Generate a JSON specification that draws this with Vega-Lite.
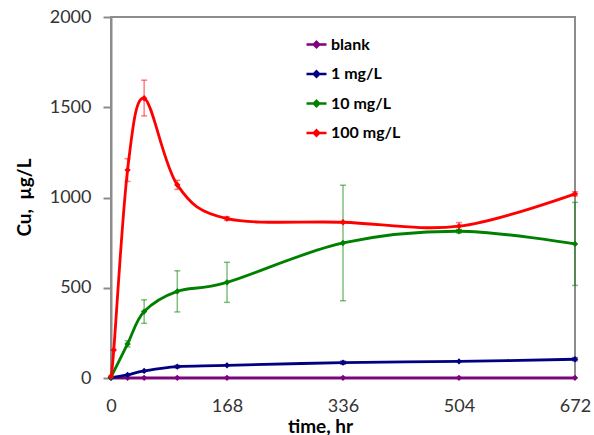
{
  "$schema": "https://vega.github.io/schema/vega-lite/v6.json",
  "width": 464,
  "height": 361,
  "autosize": {"type": "none"},
  "padding": {"left": 111, "top": 17, "right": 19, "bottom": 57},
  "background": "white",
  "config": {
    "font": "Lato",
    "view": {"stroke": "#8c8c8c", "strokeWidth": 2},
    "axis": {
      "grid": false,
      "domainColor": "#8c8c8c",
      "domainWidth": 2,
      "tickColor": "#8c8c8c",
      "tickWidth": 2,
      "labelFont": "Lato",
      "labelFontSize": 18,
      "labelColor": "#333333",
      "labelFlush": false,
      "format": "d",
      "titleFont": "Lato",
      "titleFontSize": 19,
      "titleFontWeight": "bold",
      "titleColor": "#000000"
    }
  },
  "datasets": {
    "main": [
      {"series": "blank", "t": 0, "cu": 1},
      {"series": "blank", "t": 24, "cu": 1},
      {"series": "blank", "t": 48, "cu": 1},
      {"series": "blank", "t": 96, "cu": 1},
      {"series": "blank", "t": 168, "cu": 1},
      {"series": "blank", "t": 336, "cu": 1},
      {"series": "blank", "t": 504, "cu": 1},
      {"series": "blank", "t": 672, "cu": 1},
      {"series": "1 mg/L", "t": 0, "cu": 2},
      {"series": "1 mg/L", "t": 24, "cu": 17},
      {"series": "1 mg/L", "t": 48, "cu": 39},
      {"series": "1 mg/L", "t": 96, "cu": 63},
      {"series": "1 mg/L", "t": 168, "cu": 70},
      {"series": "1 mg/L", "t": 336, "cu": 85},
      {"series": "1 mg/L", "t": 504, "cu": 92},
      {"series": "1 mg/L", "t": 672, "cu": 104},
      {"series": "10 mg/L", "t": 0, "cu": 5},
      {"series": "10 mg/L", "t": 24, "cu": 189},
      {"series": "10 mg/L", "t": 48, "cu": 368},
      {"series": "10 mg/L", "t": 96, "cu": 480},
      {"series": "10 mg/L", "t": 168, "cu": 530},
      {"series": "10 mg/L", "t": 336, "cu": 748},
      {"series": "10 mg/L", "t": 504, "cu": 813},
      {"series": "10 mg/L", "t": 672, "cu": 743},
      {"series": "100 mg/L", "t": 0, "cu": 10},
      {"series": "100 mg/L", "t": 4, "cu": 155},
      {"series": "100 mg/L", "t": 24, "cu": 1152},
      {"series": "100 mg/L", "t": 48, "cu": 1550},
      {"series": "100 mg/L", "t": 96, "cu": 1070},
      {"series": "100 mg/L", "t": 168, "cu": 883},
      {"series": "100 mg/L", "t": 336, "cu": 863},
      {"series": "100 mg/L", "t": 504, "cu": 841},
      {"series": "100 mg/L", "t": 672, "cu": 1020}
    ],
    "err": [
      {"series": "1 mg/L", "t": 96, "lo": 56, "hi": 70},
      {"series": "1 mg/L", "t": 336, "lo": 76, "hi": 94},
      {"series": "1 mg/L", "t": 672, "lo": 95, "hi": 113},
      {"series": "10 mg/L", "t": 24, "lo": 172, "hi": 206},
      {"series": "10 mg/L", "t": 48, "lo": 303, "hi": 433},
      {"series": "10 mg/L", "t": 96, "lo": 366, "hi": 594},
      {"series": "10 mg/L", "t": 168, "lo": 419, "hi": 641},
      {"series": "10 mg/L", "t": 336, "lo": 428, "hi": 1068},
      {"series": "10 mg/L", "t": 504, "lo": 803, "hi": 823},
      {"series": "10 mg/L", "t": 672, "lo": 513, "hi": 973},
      {"series": "100 mg/L", "t": 24, "lo": 1089, "hi": 1215},
      {"series": "100 mg/L", "t": 48, "lo": 1452, "hi": 1650},
      {"series": "100 mg/L", "t": 96, "lo": 1045, "hi": 1095},
      {"series": "100 mg/L", "t": 168, "lo": 873, "hi": 893},
      {"series": "100 mg/L", "t": 504, "lo": 821, "hi": 861},
      {"series": "100 mg/L", "t": 672, "lo": 1008, "hi": 1032}
    ]
  },
  "encoding": {
    "x": {
      "field": "t",
      "type": "quantitative",
      "scale": {"domain": [0, 672], "nice": false},
      "axis": {
        "values": [0, 168, 336, 504, 672],
        "ticks": false,
        "labelPadding": 19,
        "title": "time, hr",
        "titleX": 209,
        "titleY": 54,
        "titleBaseline": "alphabetic",
        "titleAnchor": "start",
        "titleAlign": "center"
      }
    },
    "color": {
      "field": "series",
      "type": "nominal",
      "scale": {
        "domain": ["blank", "1 mg/L", "10 mg/L", "100 mg/L"],
        "range": ["#800080", "#000080", "#008000", "#ff0000"]
      },
      "legend": {
        "orient": "none",
        "legendX": 194,
        "legendY": 16,
        "title": null,
        "symbolType": "M-1,0H1M0,-0.27L0.27,0L0,0.27L-0.27,0Z",
        "symbolSize": 400,
        "symbolStrokeWidth": 2.5,
        "labelFont": "Lato",
        "labelFontSize": 16,
        "labelFontWeight": "bold",
        "labelColor": "#000000",
        "labelOffset": 3,
        "rowPadding": 9.5,
        "encode": {
          "symbols": {
            "update": {
              "fill": {"scale": "color", "field": "value"},
              "stroke": {"scale": "color", "field": "value"},
              "opacity": {"value": 1}
            }
          }
        }
      }
    }
  },
  "layer": [
    {
      "data": {"name": "main"},
      "mark": {"type": "line", "interpolate": "cardinal", "strokeWidth": 2.8},
      "encoding": {
        "y": {
          "field": "cu",
          "type": "quantitative",
          "scale": {"domain": [0, 2000], "nice": false},
          "axis": {
            "values": [0, 500, 1000, 1500, 2000],
            "tickSize": 8,
            "labelPadding": 12,
            "title": "Cu,\u00a0\u00a0µg/L",
            "titleX": -87,
            "titleY": 180,
            "titleAngle": -90,
            "titleBaseline": "middle",
            "titleAlign": "center"
          }
        }
      }
    },
    {
      "data": {"name": "err"},
      "mark": {"type": "rule", "strokeWidth": 1.5, "opacity": 0.5},
      "encoding": {
        "y": {"field": "lo", "type": "quantitative"},
        "y2": {"field": "hi"}
      }
    },
    {
      "data": {"name": "err"},
      "mark": {"type": "tick", "orient": "horizontal", "size": 6, "thickness": 1.5, "opacity": 0.5},
      "encoding": {"y": {"field": "lo", "type": "quantitative"}}
    },
    {
      "data": {"name": "err"},
      "mark": {"type": "tick", "orient": "horizontal", "size": 6, "thickness": 1.5, "opacity": 0.5},
      "encoding": {"y": {"field": "hi", "type": "quantitative"}}
    },
    {
      "data": {"name": "main"},
      "mark": {"type": "point", "shape": "diamond", "filled": true, "size": 40, "opacity": 1},
      "encoding": {"y": {"field": "cu", "type": "quantitative"}}
    }
  ]
}
